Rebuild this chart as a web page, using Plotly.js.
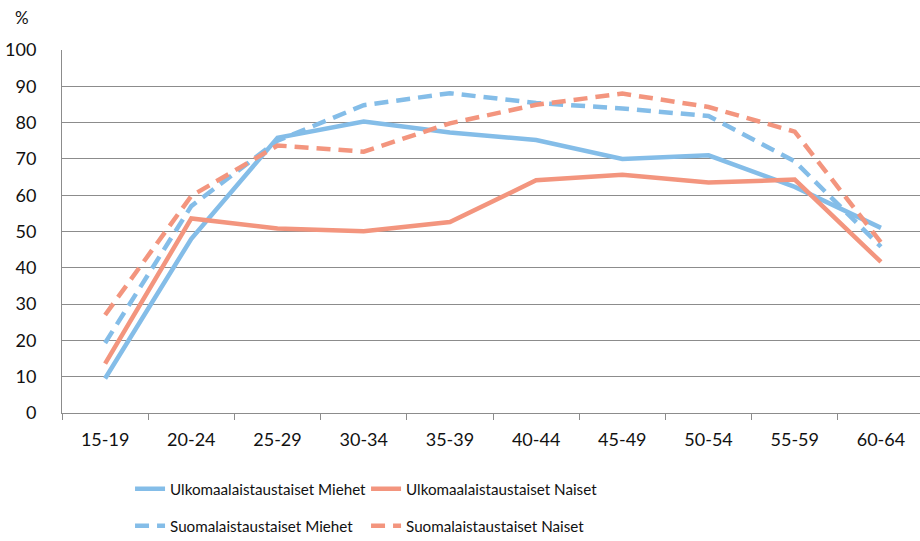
<!DOCTYPE html>
<html>
<head>
<meta charset="utf-8">
<script src="https://cdn.plot.ly/plotly-3.0.1.min.js"></script>
<style>html,body{margin:0;padding:0;background:#fff;}#chart{width:920px;height:541px;}</style>
</head>
<body>
<div id="chart"></div>
<script>
const categories = ["15-19","20-24","25-29","30-34","35-39","40-44","45-49","50-54","55-59","60-64"];
const ulkoMiehet   = [9.5, 48.0, 75.8, 80.3, 77.3, 75.2, 70.0, 71.0, 62.3, 51.0];
const ulkoNaiset   = [13.6, 53.6, 50.8, 50.1, 52.6, 64.1, 65.6, 63.5, 64.3, 41.6];
const suomiMiehet  = [19.3, 57.0, 75.0, 84.8, 88.1, 85.4, 83.9, 81.8, 69.3, 45.8];
const suomiNaiset  = [27.0, 59.8, 73.7, 72.0, 79.8, 84.9, 88.0, 84.3, 77.5, 47.0];
const seriesNames = ["Ulkomaalaistaustaiset Miehet","Ulkomaalaistaustaiset Naiset","Suomalaistaustaiset Miehet","Suomalaistaustaiset Naiset"];
const yTicks = [0,10,20,30,40,50,60,70,80,90,100];

const BLUE = "#84BDE8", ORANGE = "#F3957E";
const FONT = "Lato, Noto Sans, sans-serif";

function tr(y, name, color, dash, legend){
  return {x: categories, y: y, name: name, type: "scatter", mode: "lines",
    line: {color: color, width: 4.5, dash: dash}, legend: legend, hoverinfo: "skip"};
}
const data = [
  tr(ulkoMiehet, seriesNames[0], BLUE, "solid", "legend"),
  tr(ulkoNaiset, seriesNames[1], ORANGE, "solid", "legend"),
  tr(suomiMiehet, seriesNames[2], BLUE, "14px,8px", "legend2"),
  tr(suomiNaiset, seriesNames[3], ORANGE, "14px,8px", "legend2")
];
const legCommon = {orientation: "h", xanchor: "left", yanchor: "middle", font: {family: FONT, size: 15.2, color: "#111"},
  entrywidth: 191, entrywidthmode: "pixels", bgcolor: "rgba(0,0,0,0)", itemclick: false, itemdoubleclick: false};
const layout = {
  width: 920, height: 541,
  margin: {l: 62, r: 0, t: 50, b: 128, pad: 0, autoexpand: false},
  paper_bgcolor: "#fff", plot_bgcolor: "#fff",
  font: {family: FONT, size: 17, color: "#111"},
  showlegend: true,
  xaxis: {type: "category", range: [-0.5, 9.453], tickson: "boundaries", ticks: "outside", ticklen: 6,
    tickcolor: "#8c8c8c", tickwidth: 1, showline: true, linecolor: "#8c8c8c", linewidth: 1,
    showgrid: false, zeroline: false, ticklabelstandoff: 10, tickfont: {family: FONT, size: 18, color: "#111"}, fixedrange: true, automargin: false},
  yaxis: {range: [0, 100], tickvals: yTicks, ticktext: yTicks.map(String), showgrid: true, gridcolor: "#8c8c8c",
    gridwidth: 1, showline: true, linecolor: "#8c8c8c", linewidth: 1, zeroline: false, ticks: "",
    ticklabelstandoff: 21, tickfont: {family: FONT, size: 18, color: "#111"}, fixedrange: true, automargin: false},
  legend: Object.assign({}, legCommon, {x: 0.0793, y: -0.209}),
  legend2: Object.assign({}, legCommon, {x: 0.0793, y: -0.311}),
  annotations: [{text: "%", xref: "paper", yref: "paper", x: -0.047, y: 1.09, showarrow: false,
    xanchor: "center", yanchor: "middle", font: {family: FONT, size: 17, color: "#111"}}]
};
Plotly.newPlot("chart", data, layout, {staticPlot: true, displayModeBar: false});
</script>
</body>
</html>
